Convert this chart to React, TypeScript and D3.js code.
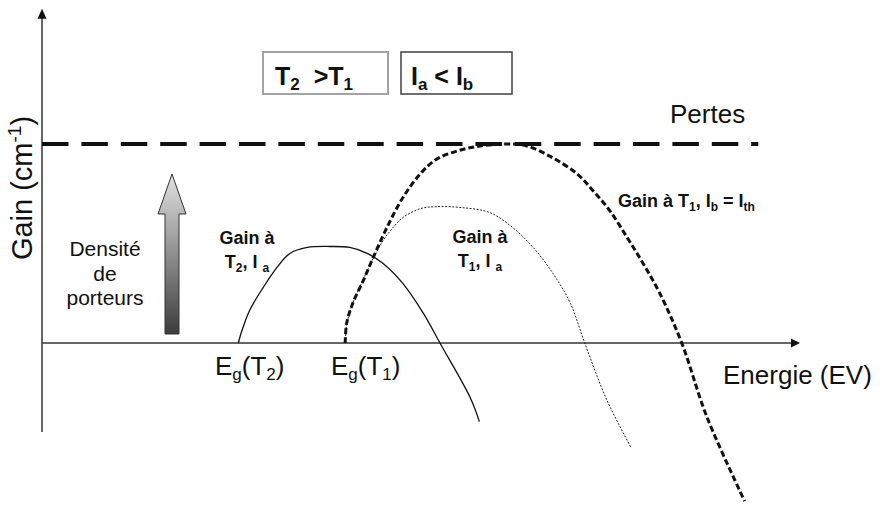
import React from "react";
import * as d3 from "d3";

// energy (arbitrary units 0..100) vs gain (arbitrary units, pertes = 100)
const gainT2Ia = [
  [25.9, 0], [26.4, 6.5], [27.4, 16.5], [29.2, 28], [31.0, 38], [32.7, 45], [35.0, 48],
  [38.0, 48.5], [40.6, 48], [42.9, 45], [45.0, 40], [47.6, 30], [50.3, 15], [52.5, 0],
  [56.5, -27.5], [57.7, -39.5],
];

const gainT1Ia = [
  [40.0, 0], [40.2, 9], [40.9, 19], [42.2, 30.5], [43.7, 42.5], [45.0, 51.5], [46.2, 57.5],
  [47.6, 63], [49.9, 67.5], [52.1, 68.5], [55.5, 68], [59.1, 65.5], [62.1, 58], [64.8, 48],
  [67.4, 35], [69.7, 20], [71.6, 0], [74.5, -28.5], [77.7, -52.5],
];

const gainT1Ib = [
  [40.0, 0], [40.2, 10], [41.0, 20], [42.4, 31.5], [43.7, 43], [45.5, 58], [47.6, 73],
  [49.9, 85], [52.1, 92.5], [54.8, 96.5], [57.8, 99], [62.1, 100], [64.0, 99], [67.4, 93],
  [70.6, 85], [72.7, 76.5], [74.9, 66.5], [77.2, 53], [79.3, 40], [81.5, 25], [84.4, 0],
  [87.7, -37], [92.7, -79.5],
];

const pertes = 100;
const pertesExtent = [0, 94.5];
const xAxisExtent = [0, 100];
const yAxisExtent = [-44.7, 168];

const font = "'Liberation Sans', Arial, sans-serif";

const x = d3.scaleLinear().domain([0, 100]).range([42, 800]);
const y = d3.scaleLinear().domain([0, 100]).range([343, 144]);

const line = d3
  .line<number[]>()
  .x((d) => x(d[0]))
  .y((d) => y(d[1]))
  .curve(d3.curveCatmullRom.alpha(0.5));

// parts: [text, isSub]
const Rich = ({ parts, sub }: { parts: [string, boolean][]; sub: number }) => {
  const off = sub * 0.3;
  let down = false;
  return (
    <>
      {parts.map(([t, isSub], i) => {
        let dy = 0;
        if (isSub && !down) { dy = off; down = true; }
        else if (!isSub && down) { dy = -off; down = false; }
        return (
          <tspan key={i} dy={dy || undefined} fontSize={isSub ? sub : undefined}>{t}</tspan>
        );
      })}
    </>
  );
};

export default function App() {
  return (
    <svg
      width={891}
      height={507}
      style={{ position: "absolute", left: 0, top: 0, background: "#fff" }}
      fontFamily={font}
    >
      <defs>
        <linearGradient id="arrowFill" x1="0" y1="0" x2="0" y2="1">
          <stop offset="0%" stopColor="#e2e2e2" />
          <stop offset="100%" stopColor="#3c3c3c" />
        </linearGradient>
      </defs>
      <rect width={891} height={507} fill="#fff" />

      {/* axes */}
      <line x1={x(0)} x2={x(0)} y1={y(yAxisExtent[0])} y2={y(yAxisExtent[1]) + 8} stroke="#333" strokeWidth={1.5} />
      <polygon
        points={`${x(0)},${y(yAxisExtent[1])} ${x(0) - 4.5},${y(yAxisExtent[1]) + 10} ${x(0) + 4.5},${y(yAxisExtent[1]) + 10}`}
        fill="#111"
      />
      <line x1={x(xAxisExtent[0])} x2={x(xAxisExtent[1]) - 8} y1={y(0)} y2={y(0)} stroke="#333" strokeWidth={1.5} />
      <polygon
        points={`${x(xAxisExtent[1])},${y(0)} ${x(xAxisExtent[1]) - 9},${y(0) - 4.5} ${x(xAxisExtent[1]) - 9},${y(0) + 4.5}`}
        fill="#111"
      />

      {/* pertes */}
      <line
        x1={x(pertesExtent[0])}
        x2={x(pertesExtent[1])}
        y1={y(pertes)}
        y2={y(pertes)}
        stroke="#111"
        strokeWidth={4}
        strokeDasharray="26.5 12.9"
      />

      {/* curves */}
      <path d={line(gainT2Ia) ?? ""} fill="none" stroke="#111" strokeWidth={1.3} />
      <path d={line(gainT1Ia) ?? ""} fill="none" stroke="#222" strokeWidth={1} strokeDasharray="2 1.5" />
      <path d={line(gainT1Ib) ?? ""} fill="none" stroke="#111" strokeWidth={3} strokeDasharray="6 3" />

      {/* axis titles */}
      <text x={670} y={123} fontSize={26} fill="#111">Pertes</text>
      <text x={723} y={384} fontSize={26} fill="#111">Energie (EV)</text>
      <text transform="translate(32,188) rotate(-90)" textAnchor="middle" fontSize={29} fill="#111">
        Gain (cm<tspan dy={-11} fontSize={19}>-1</tspan><tspan dy={11}>)</tspan>
      </text>

      {/* Eg labels */}
      <text x={215} y={375} fontSize={26} fill="#111">
        <Rich sub={17} parts={[["E", false], ["g", true], ["(T", false], ["2", true], [")", false]]} />
      </text>
      <text x={331} y={375} fontSize={26} fill="#111">
        <Rich sub={17} parts={[["E", false], ["g", true], ["(T", false], ["1", true], [")", false]]} />
      </text>

      {/* boxes */}
      <rect x={263} y={52} width={125} height={42} fill="#fff" stroke="#a3a3a3" strokeWidth={2} />
      <text x={275} y={85} fontSize={25} fontWeight="bold" fill="#111">
        <Rich sub={17} parts={[["T", false], ["2", true], ["\u00a0\u00a0>T", false], ["1", true]]} />
      </text>
      <rect x={401} y={52} width={111} height={42} fill="#fff" stroke="#404040" strokeWidth={1.5} />
      <text x={411} y={85} fontSize={25} fontWeight="bold" fill="#111">
        <Rich sub={17} parts={[["I", false], ["a", true], ["\u00a0<\u00a0I", false], ["b", true]]} />
      </text>

      {/* carrier density arrow */}
      <polygon
        points="172,174 158,214 165,214 165,334 179,334 179,214 186,214"
        fill="url(#arrowFill)"
        stroke="#333"
        strokeWidth={1}
      />
      <g fontSize={21} textAnchor="middle" fill="#111">
        <text x={105} y={256}>Densité</text>
        <text x={105} y={281}>de</text>
        <text x={105} y={305}>porteurs</text>
      </g>

      {/* curve labels */}
      <g fontSize={18} fontWeight="bold" fill="#111">
        <text x={247} y={244} textAnchor="middle">Gain à</text>
        <text x={247} y={268} textAnchor="middle">
          <Rich sub={12} parts={[["T", false], ["2", true], [",\u00a0I\u00a0", false], ["a", true]]} />
        </text>
        <text x={480} y={243} textAnchor="middle">Gain à</text>
        <text x={480} y={267} textAnchor="middle">
          <Rich sub={12} parts={[["T", false], ["1", true], [",\u00a0I\u00a0", false], ["a", true]]} />
        </text>
        <text x={618} y={207}>
          <Rich
            sub={12}
            parts={[["Gain à T", false], ["1", true], [",\u00a0I", false], ["b", true], ["\u00a0=\u00a0I", false], ["th", true]]}
          />
        </text>
      </g>
    </svg>
  );
}
